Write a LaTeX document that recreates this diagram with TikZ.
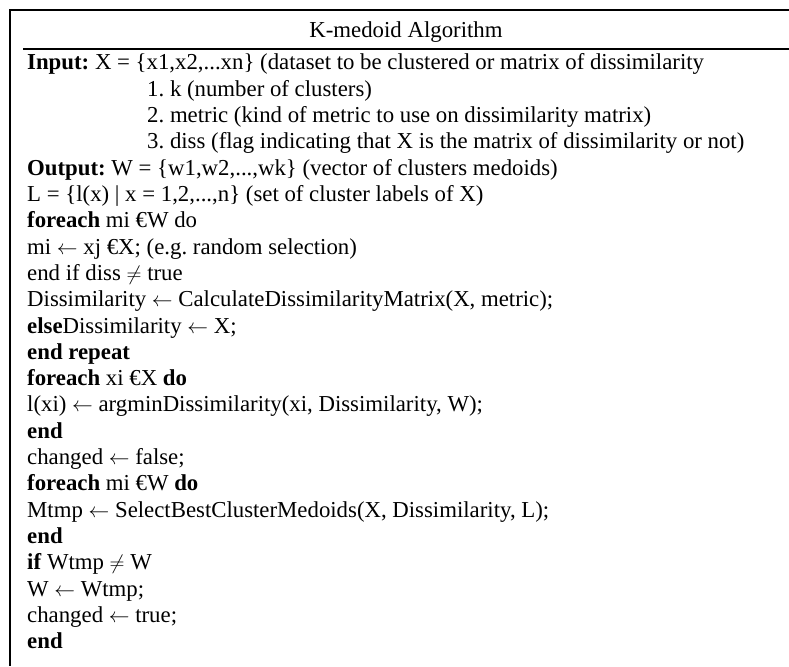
\documentclass[tikz,border=0pt]{standalone}
\usepackage{fontspec}
\setmainfont{Liberation Serif}
\frenchspacing
\newcommand{\assignarrow}{$\leftarrow$}
\newcommand{\notequal}{$\neq$}
\begin{document}
\begin{tikzpicture}[x=1pt,y=-1pt,
    algline/.style={anchor=base west,inner sep=0pt,font=\fontsize{22.8}{26.3}\selectfont},
    algtitle/.style={anchor=base,inner sep=0pt,font=\fontsize{22.8}{26.3}\selectfont},
    rule/.style={line width=1.6pt}]
    \useasboundingbox (0,0) rectangle (789,666);
    % frame
    \draw[rule] (789,10) -- (10,10) -- (10,666);
    \draw[rule] (23,49) -- (789,49);
    \node[algtitle] (title) at (406,38) {K-medoid Algorithm};
    % input / output
    \node[algline] (line1) at (27,70) {\textbf{Input:} X = \{x1,x2,...xn\} (dataset to be clustered or matrix of dissimilarity};
    \node[algline] (line2) at (147,96.3) {1. k (number of clusters)};
    \node[algline] (line3) at (147,122.6) {2. metric (kind of metric to use on dissimilarity matrix)};
    \node[algline] (line4) at (147,148.9) {3. diss (flag indicating that X is the matrix of dissimilarity or not)};
    \node[algline] (line5) at (27,175.2) {\textbf{Output:} W = \{w1,w2,...,wk\} (vector of clusters medoids)};
    \node[algline] (line6) at (27,201.5) {L = \{l(x) | x = 1,2,...,n\} (set of cluster labels of X)};
    % steps
    \node[algline] (line7) at (27,227.8) {\textbf{foreach} mi €W do};
    \node[algline] (line8) at (27,254.1) {mi \assignarrow{} xj €X; (e.g. random selection)};
    \node[algline] (line9) at (27,280.4) {end if diss \notequal{} true};
    \node[algline] (line10) at (27,306.7) {Dissimilarity \assignarrow{} CalculateDissimilarityMatrix(X, metric);};
    \node[algline] (line11) at (27,333) {\textbf{else}Dissimilarity \assignarrow{} X;};
    \node[algline] (line12) at (27,359.3) {\textbf{end repeat}};
    \node[algline] (line13) at (27,385.6) {\textbf{foreach} xi €X \textbf{do}};
    \node[algline] (line14) at (27,411.9) {l(xi) \assignarrow{} argminDissimilarity(xi, Dissimilarity, W);};
    \node[algline] (line15) at (27,438.2) {\textbf{end}};
    \node[algline] (line16) at (27,464.5) {changed \assignarrow{} false;};
    \node[algline] (line17) at (27,490.8) {\textbf{foreach} mi €W \textbf{do}};
    \node[algline] (line18) at (27,517.1) {Mtmp \assignarrow{} SelectBestClusterMedoids(X, Dissimilarity, L);};
    \node[algline] (line19) at (27,543.4) {\textbf{end}};
    \node[algline] (line20) at (27,569.7) {\textbf{if} Wtmp \notequal{} W};
    \node[algline] (line21) at (27,596) {W \assignarrow{} Wtmp;};
    \node[algline] (line22) at (27,622.3) {changed \assignarrow{} true;};
    \node[algline] (line23) at (27,648.6) {\textbf{end}};
\end{tikzpicture}
\end{document}
